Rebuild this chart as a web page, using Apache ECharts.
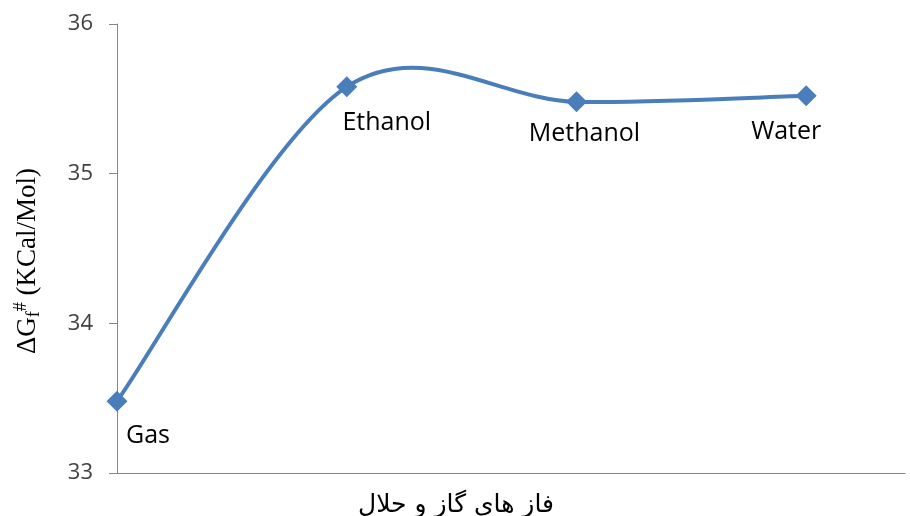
<!DOCTYPE html>
<html><head><meta charset="utf-8">
<script src="https://cdn.jsdelivr.net/npm/echarts@6/dist/echarts.min.js"></script>
<style>html,body{margin:0;padding:0;background:#fff}#c{width:910px;height:516px}</style>
</head><body><div id="c"></div>
<script>
var categories = ['Gas', 'Ethanol', 'Methanol', 'Water'];
var values = [33.48, 35.58, 35.48, 35.52];
var yTicks = [33, 34, 35, 36];
var xTitle = 'فاز های گاز و حلال';

var labelOffsets = [[31, 35], [40, 36], [8, 32], [-20, 36]];
var LINE_COLOR = '#4A7EBB';

var chart = echarts.init(document.getElementById('c'));
var pts = values.map(function (v, i) { return [i, v]; });
var scatterData = values.map(function (v, i) {
  return { value: [i, v], name: categories[i], label: { offset: labelOffsets[i] } };
});

function renderCurve(params, api) {
  if (params.dataIndex !== 0) return null;
  var P = pts.map(function (p) { return api.coord(p); });
  var n = P.length;
  var path = 'M' + P[0][0] + ' ' + P[0][1];
  for (var i = 0; i < n - 1; i++) {
    var p0 = P[Math.max(i - 1, 0)], p1 = P[i], p2 = P[i + 1], p3 = P[Math.min(i + 2, n - 1)];
    var c1x = p1[0] + (p2[0] - p0[0]) / 6, c1y = p1[1] + (p2[1] - p0[1]) / 6;
    var c2x = p2[0] - (p3[0] - p1[0]) / 6, c2y = p2[1] - (p3[1] - p1[1]) / 6;
    path += ' C' + c1x + ' ' + c1y + ' ' + c2x + ' ' + c2y + ' ' + p2[0] + ' ' + p2[1];
  }
  return {
    type: 'path',
    shape: { pathData: path },
    style: { fill: null, stroke: LINE_COLOR, lineWidth: 4 }
  };
}

chart.setOption({
  animation: false,
  grid: { left: 117, right: 5, top: 24, bottom: 43 },
  xAxis: {
    type: 'value', min: 0, max: 3.43,
    axisLine: { lineStyle: { color: '#868686', width: 1 } },
    axisTick: { show: false }, axisLabel: { show: false }, splitLine: { show: false }
  },
  yAxis: {
    type: 'value', min: yTicks[0], max: yTicks[yTicks.length - 1], interval: 1,
    axisLine: { show: true, lineStyle: { color: '#868686', width: 1 } },
    axisTick: { show: true, length: 8, lineStyle: { color: '#868686' } },
    axisLabel: { color: '#404040', fontSize: 22, fontFamily: 'Open Sans, Liberation Sans, sans-serif', margin: 24 },
    splitLine: { show: false }
  },
  title: [{
    text: xTitle, left: 451, top: 488, textAlign: 'center',
    textStyle: { fontSize: 25, fontWeight: 'normal', color: '#000', fontFamily: 'DejaVu Sans, sans-serif' }
  }],
  graphic: [{
    type: 'text', x: 28, y: 261, rotation: Math.PI / 2,
    style: {
      text: '{a|ΔG}{s|f}{p|#}{a| (KCal/Mol)}',
      align: 'center', verticalAlign: 'middle',
      rich: {
        a: { fontSize: 27, fontFamily: 'Liberation Serif, serif', fill: '#000' },
        s: { fontSize: 18, fontFamily: 'Liberation Serif, serif', fill: '#000', padding: [12, 0, 0, 0] },
        p: { fontSize: 18, fontFamily: 'Liberation Serif, serif', fill: '#000', padding: [0, 0, 14, 0] }
      }
    }
  }],
  series: [{
    type: 'custom', data: pts, renderItem: renderCurve, silent: true, z: 2
  }, {
    type: 'scatter', data: scatterData, z: 3,
    symbol: 'diamond', symbolSize: 21,
    itemStyle: { color: LINE_COLOR, opacity: 1 },
    label: {
      show: true, position: 'inside', color: '#000', fontSize: 25,
      fontFamily: 'Open Sans, Liberation Sans, sans-serif',
      formatter: function (p) { return p.name; }
    }
  }]
});
</script></body></html>
